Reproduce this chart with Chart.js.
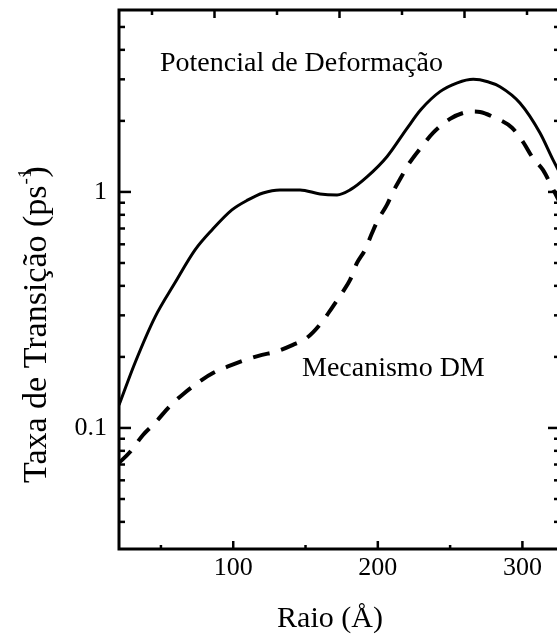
<!DOCTYPE html>
<html>
<head>
<meta charset="utf-8">
<script src="https://cdn.jsdelivr.net/npm/chart.js@4.4.0/dist/chart.umd.min.js"></script>
<style>
  html, body { margin: 0; padding: 0; background: #fff; overflow: hidden; }
  canvas { display: block; }
</style>
</head>
<body>
<canvas id="c" width="562" height="644" style="width:562px;height:644px"></canvas>
<script>
// ---- data ----
const radiusSolid = [21, 32.1, 45.9, 59.7, 73.6, 85.3, 99.1, 110.2, 120.6, 132.3, 146.2, 160, 171.8, 180.8, 192.5, 206.3, 220.2, 230, 243, 255, 266, 276, 284.5, 298.3, 312.1, 321.1, 326];
const rateDeformation = [0.125, 0.189, 0.295, 0.412, 0.568, 0.690, 0.839, 0.925, 0.990, 1.02, 1.02, 0.98, 0.971, 1.02, 1.158, 1.41, 1.86, 2.24, 2.66, 2.90, 3.0, 2.93, 2.79, 2.38, 1.78, 1.37, 1.2];

const radiusDashed = [21, 28.6, 37.6, 45.9, 56.3, 65.3, 78.4, 86, 99.1, 108.1, 119.9, 128.9, 141.3, 151, 161.4, 168.3, 175.2, 180.8, 185.6, 191.1, 196, 200.1, 206.3, 210.5, 216.7, 220.9, 230.5, 238.2, 249.9, 258.9, 265, 270.7, 279.6, 292.8, 300.4, 307.3, 314.2, 320.4, 323.9, 326];
const rateDM = [0.0711, 0.0791, 0.0934, 0.105, 0.124, 0.139, 0.160, 0.171, 0.185, 0.194, 0.204, 0.210, 0.225, 0.241, 0.281, 0.323, 0.373, 0.424, 0.500, 0.568, 0.670, 0.761, 0.881, 1.0, 1.17, 1.30, 1.56, 1.78, 2.04, 2.16, 2.19, 2.18, 2.08, 1.87, 1.63, 1.39, 1.24, 1.05, 0.953, 0.9];

const xTickValues = [50, 100, 150, 200, 250, 300];
const xMajorTicks = [100, 200, 300];
const xTickLabels = {100: '100', 200: '200', 300: '300'};

const topTickValues = [0, 1, 2, 3, 4, 5, 6];
const topMajorTicks = [1, 3, 5];

const yTickValues = [0.04, 0.05, 0.06, 0.07, 0.08, 0.09, 0.1, 0.2, 0.3, 0.4, 0.5, 0.6, 0.7, 0.8, 0.9, 1, 2, 3, 4, 5];
const yMajorTicks = [0.1, 1];
const yTickLabels = {0.1: '0.1', 1: '1'};

const labelDeformation = 'Potencial de Deformação';
const labelDM = 'Mecanismo DM';
const xTitle = 'Raio (Å)';
const yTitleMain = 'Taxa de Transição (ps';
const yTitleSup = '-1';
const yTitleEnd = ')';

const SERIF = '"Liberation Serif", "Times New Roman", Times, serif';

const noPad = s => { s.paddingTop = 0; s.paddingBottom = 0; s.paddingLeft = 0; s.paddingRight = 0; };

const framePlugin = {
  id: 'frameTicks',
  afterDatasetsDraw(chart) {
    const {ctx, chartArea: {left, right, top, bottom}, scales: {x, x2, y}} = chart;
    ctx.save();
    ctx.strokeStyle = '#000';
    ctx.lineCap = 'butt';
    const line = (x1, y1, x2_, y2) => { ctx.beginPath(); ctx.moveTo(x1, y1); ctx.lineTo(x2_, y2); ctx.stroke(); };
    ctx.lineWidth = 2.5;
    xTickValues.forEach(v => {
      const px = x.getPixelForValue(v);
      const len = xMajorTicks.includes(v) ? 8 : 4;
      line(px, bottom, px, bottom - len);
    });
    topTickValues.forEach(v => {
      const px = x2.getPixelForValue(v);
      const len = topMajorTicks.includes(v) ? 8 : 5;
      line(px, top, px, top + len);
    });
    yTickValues.forEach(v => {
      const py = y.getPixelForValue(v);
      const len = yMajorTicks.includes(v) ? 12 : 6;
      line(left, py, left + len, py);
      line(right, py, right - len, py);
    });
    ctx.lineWidth = 3;
    ctx.strokeRect(left, top, right - left, bottom - top);
    ctx.restore();
  },
  afterDraw(chart) {
    const {ctx} = chart;
    ctx.save();
    ctx.fillStyle = '#000';
    ctx.textBaseline = 'alphabetic';
    ctx.textAlign = 'left';
    ctx.font = '28px ' + SERIF;
    ctx.fillText(labelDeformation, 160, 71);
    ctx.fillText(labelDM, 302, 376);
    ctx.font = '30px ' + SERIF;
    ctx.textAlign = 'center';
    ctx.fillText(xTitle, 330, 627);
    ctx.translate(46, 483);
    ctx.rotate(-Math.PI / 2);
    ctx.textAlign = 'left';
    ctx.font = '34px ' + SERIF;
    ctx.fillText(yTitleMain, 0, 0);
    const w = ctx.measureText(yTitleMain).width;
    ctx.font = '19px ' + SERIF;
    ctx.fillText(yTitleSup, w + 1, -15);
    const ws = ctx.measureText(yTitleSup).width;
    ctx.font = '34px ' + SERIF;
    ctx.fillText(yTitleEnd, w + ws * 0.5, 0);
    ctx.restore();
  }
};

new Chart(document.getElementById('c'), {
  type: 'line',
  data: {
    datasets: [
      {
        label: labelDeformation,
        data: radiusSolid.map((r, i) => ({x: r, y: rateDeformation[i]})),
        borderColor: '#000',
        borderWidth: 3,
        pointRadius: 0,
        cubicInterpolationMode: 'monotone',
        fill: false
      },
      {
        label: labelDM,
        data: radiusDashed.map((r, i) => ({x: r, y: rateDM[i]})),
        borderColor: '#000',
        borderWidth: 4,
        borderDash: [17, 12],
        pointRadius: 0,
        cubicInterpolationMode: 'monotone',
        fill: false
      }
    ]
  },
  options: {
    responsive: false,
    animation: false,
    devicePixelRatio: 1,
    layout: {padding: {left: 0, right: 2, top: 0, bottom: 0}},
    plugins: {legend: {display: false}, tooltip: {enabled: false}},
    scales: {
      x: {
        type: 'linear', position: 'bottom', min: 21, max: 326,
        afterBuildTicks: s => { s.ticks = xTickValues.map(v => ({value: v})); },
        afterFit: s => { s.height = 95; noPad(s); },
        ticks: {
          callback: v => xTickLabels[v] || '',
          maxRotation: 0, minRotation: 0, autoSkip: false, padding: 4,
          color: '#000', font: {family: SERIF, size: 26}
        },
        grid: {display: false, drawTicks: false},
        border: {display: false}
      },
      x2: {
        type: 'linear', position: 'top', min: -0.528, max: 6.528,
        afterBuildTicks: s => { s.ticks = topTickValues.map(v => ({value: v})); },
        afterFit: s => { s.height = 10; noPad(s); },
        ticks: {display: false},
        grid: {display: false, drawTicks: false},
        border: {display: false}
      },
      y: {
        type: 'logarithmic', position: 'left', min: 0.0307, max: 5.9,
        afterBuildTicks: s => { s.ticks = yTickValues.map(v => ({value: v})); },
        afterFit: s => { s.width = 119; noPad(s); },
        ticks: {
          callback: v => yTickLabels[v] || '',
          autoSkip: false, padding: 12,
          color: '#000', font: {family: SERIF, size: 26}
        },
        grid: {display: false, drawTicks: false},
        border: {display: false}
      }
    }
  },
  plugins: [framePlugin]
});
</script>
</body>
</html>
